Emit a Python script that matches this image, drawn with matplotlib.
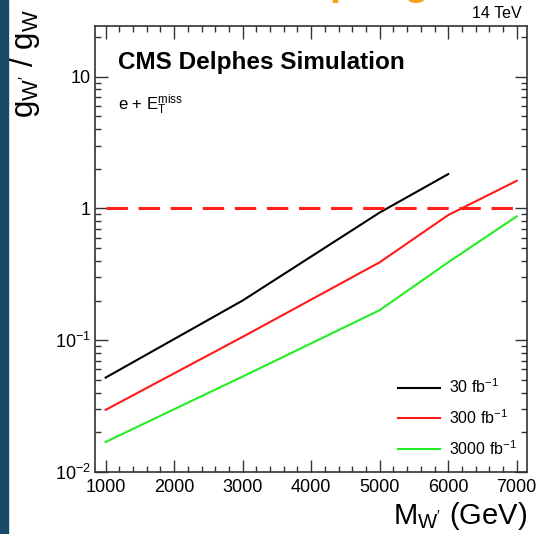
import numpy as np
import matplotlib
matplotlib.use('Agg')
import matplotlib.pyplot as plt
from matplotlib.ticker import FixedLocator, FixedFormatter, LogLocator, MultipleLocator
from matplotlib import patches

plt.rcParams['font.family'] = ['Liberation Sans', 'DejaVu Sans']
plt.rcParams['mathtext.fontset'] = 'custom'
plt.rcParams['mathtext.rm'] = 'Liberation Sans'
plt.rcParams['mathtext.it'] = 'Liberation Sans'

# limits
mass_30 = [1000, 3000, 5000, 6000]
g_30 = [0.052, 0.200, 0.93, 1.82]
mass_300 = [1000, 3000, 5000, 6000, 7000]
g_300 = [0.0296, 0.106, 0.39, 0.89, 1.62]
mass_3000 = [1000, 3000, 5000, 6000, 7000]
g_3000 = [0.0169, 0.053, 0.169, 0.39, 0.87]
labels = ['30 fb$^{-1}$', '300 fb$^{-1}$', '3000 fb$^{-1}$']
y_ticks = [0.01, 0.1, 1, 10]
y_ticklabels = ['10$^{-2}$', '10$^{-1}$', '1', '10']
x_ticks = [1000, 2000, 3000, 4000, 5000, 6000, 7000]

fig = plt.figure(figsize=(5.36, 5.34), dpi=100)
ax = fig.add_axes([95 / 536, 1 - 472 / 534, 432 / 536, 446 / 534])

ax.plot(mass_30, g_30, color='black', lw=1.5, label=labels[0])
ax.plot(mass_300, g_300, color='#ff1a1a', lw=1.5, label=labels[1])
ax.plot(mass_3000, g_3000, color='#22ee22', lw=1.5, label=labels[2])
ax.plot([1000, 7000], [1, 1], color='#ff2020', lw=2.2, ls=(0, (7, 3.5)))

ax.set_yscale('log')
ax.set_xlim(845, 7150)
ax.set_ylim(0.01, 24.2)

ax.xaxis.set_major_locator(FixedLocator(x_ticks))
ax.xaxis.set_minor_locator(MultipleLocator(200))
ax.yaxis.set_major_locator(FixedLocator(y_ticks))
ax.yaxis.set_major_formatter(FixedFormatter(y_ticklabels))
ax.yaxis.set_minor_locator(LogLocator(base=10, subs=np.arange(2, 10), numticks=50))
ax.yaxis.set_minor_formatter(plt.NullFormatter())

ax.tick_params(which='both', direction='in', top=True, right=True,
               labelsize=13, width=1.0, color='#333333')
ax.tick_params(which='major', length=9)
ax.tick_params(which='minor', length=4.5)
ax.tick_params(axis='x', pad=5)
ax.tick_params(axis='y', pad=3)
for s in ax.spines.values():
    s.set_linewidth(1.2)
    s.set_color('#333333')

ax.text(1.0, -0.062, "M$_{\\mathrm{W'}}$ (GeV)", transform=ax.transAxes,
        ha='right', va='top', fontsize=21)
fig.text(25 / 536, 1 - 9 / 534, "g$_{\\mathrm{W'}}$ / g$_{\\mathrm{W}}$",
         rotation=90, ha='center', va='top', fontsize=22.5)

ax.text(0.053, 0.945, 'CMS Delphes Simulation', transform=ax.transAxes,
        fontsize=17.5, fontweight='bold', va='top')
ax.text(0.053, 0.85, 'e + E$_{\\mathrm{T}}^{\\mathrm{miss}}$', transform=ax.transAxes,
        fontsize=12, va='top')
fig.text(522 / 536, 1 - 18 / 534, '14 TeV', ha='right', va='baseline', fontsize=11.5)

ax.legend(loc='lower right', bbox_to_anchor=(1.01, 0.0), frameon=False,
          fontsize=11.5, handlelength=2.6, handletextpad=0.6, labelspacing=0.75)

# slide decorations around the figure
fig.patches.append(patches.Rectangle((0, 0), 8 / 536, 1, transform=fig.transFigure,
                                     color='#174a66', zorder=5))
fig.text(195 / 536, 1 + 6 / 534, 'W\' couplings', color='#f7a21b', fontsize=30,
         fontweight='bold', ha='left', va='baseline')

fig.savefig('out.png', dpi=100)
